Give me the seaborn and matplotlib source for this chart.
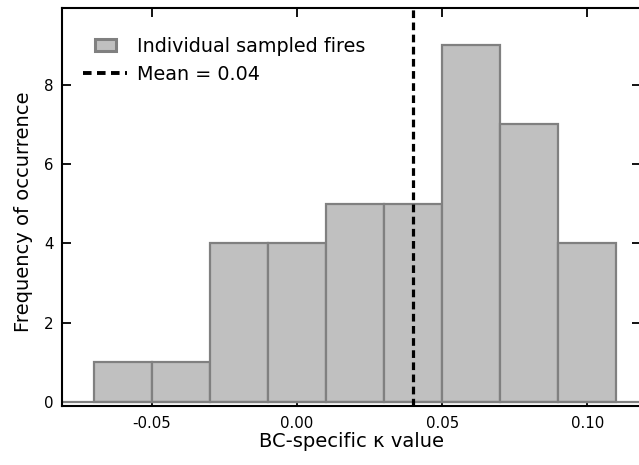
import numpy as np
import pandas as pd
import matplotlib
matplotlib.use("Agg")
import matplotlib.pyplot as plt
import matplotlib.patches as mpatches
from matplotlib.legend_handler import HandlerPatch
from matplotlib.lines import Line2D
import seaborn as sns

# Data
bin_edges = [-0.07, -0.05, -0.03, -0.01, 0.01, 0.03, 0.05, 0.07, 0.09, 0.11]
counts = [1, 1, 4, 4, 5, 5, 9, 7, 4]
mean_value = 0.04
x_ticks = [-0.05, 0.00, 0.05, 0.10]
x_tick_labels = ["-0.05", "0.00", "0.05", "0.10"]
y_ticks = [0, 2, 4, 6, 8]

centers = [(a + b) / 2 for a, b in zip(bin_edges[:-1], bin_edges[1:])]
df = pd.DataFrame({"kappa": centers, "n": counts})

sns.set_style("ticks")
plt.rcParams["font.family"] = ["DejaVu Sans"]
plt.rcParams["text.color"] = "black"
plt.rcParams["axes.labelcolor"] = "black"

fig = plt.figure(figsize=(6.39, 4.65), dpi=100)
ax = fig.add_axes([62 / 639, 1 - 406 / 465, 1 - 62 / 639 + 0.003, (406 - 7.5) / 465])

bar_face = "#c0c0c0"
bar_edge = "#808080"
sns.histplot(data=df, x="kappa", weights="n", bins=bin_edges, ax=ax,
             color=bar_face, edgecolor=bar_edge, linewidth=1.6, alpha=1)
ax.axhline(0, color=bar_edge, lw=1.6, zorder=1.5)
ax.axvline(mean_value, color="black", lw=2.3, dashes=(2.4, 1.4), zorder=3)

ax.set_xlim(-0.081, 0.1185)
ax.set_ylim(-0.1, 9.95)
ax.set_xticks(x_ticks)
ax.set_xticklabels(x_tick_labels)
ax.set_yticks(y_ticks)
ax.tick_params(direction="in", length=6.5, width=1.3, colors="black",
               labelsize=10.8, top=True, right=True)
ax.tick_params(axis="x", pad=7)
ax.tick_params(axis="y", pad=6)
for s in ax.spines.values():
    s.set_linewidth(1.5)
    s.set_color("black")

ax.set_xlabel("BC-specific \u03ba value", fontsize=14, labelpad=1)
ax.set_ylabel("Frequency of occurrence", fontsize=14)
ax.yaxis.set_label_coords(-0.05, 0.487)


class SmallPatch(HandlerPatch):
    def create_artists(self, legend, orig_handle, xdescent, ydescent,
                       width, height, fontsize, trans):
        w = width * 0.47
        h = height * 0.85
        x0 = -xdescent + width * 0.27
        y0 = -ydescent + (height - h) / 2
        p = mpatches.Rectangle((x0, y0), w, h, facecolor=bar_face,
                               edgecolor=bar_edge, linewidth=2.2,
                               transform=trans)
        return [p]


h_patch = mpatches.Patch(facecolor=bar_face, edgecolor=bar_edge)
h_line = Line2D([], [], color="black", lw=2.8, dashes=(2.2, 1.4))
leg = ax.legend([h_patch, h_line],
                ["Individual sampled fires", "Mean = %.2f" % mean_value],
                handler_map={mpatches.Patch: SmallPatch()},
                loc="upper left", frameon=False, fontsize=13.8,
                bbox_to_anchor=(0.0, 0.98), handlelength=2.3,
                handletextpad=0.5, labelspacing=0.5, borderaxespad=0.7)

fig.savefig("out.png", dpi=100)
